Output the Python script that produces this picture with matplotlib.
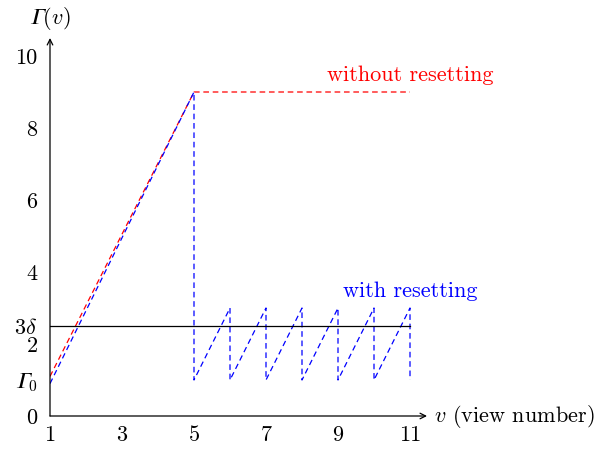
import matplotlib
matplotlib.use("Agg")
import matplotlib.pyplot as plt

plt.rcParams['font.family'] = ['cmr10', 'DejaVu Serif']
plt.rcParams['mathtext.fontset'] = 'cm'
plt.rcParams['axes.formatter.use_mathtext'] = True

G = '\U0001D6E4'  # italic capital Gamma

# Data
red_x = [1, 5, 11]
red_y = [1.1, 9, 9]
blue_x = [1, 5, 5, 6, 6, 7, 7, 8, 8, 9, 9, 10, 10, 11, 11]
blue_y = [0.9, 9, 1, 3, 1, 3, 1, 3, 1, 3, 1, 3, 1, 3, 1]
thresh_x = [1, 11]
thresh_y = [2.5, 2.5]
xticks = [1, 3, 5, 7, 9, 11]
yticks = [0, 1, 2, 2.5, 4, 6, 8, 10]
yticklabels = ['0', '$' + G + '_0$', '2', r'$3\delta$', '4', '6', '8', '10']

FS = 16
fig = plt.figure(figsize=(6.09, 4.49), dpi=100)
W, H = 609, 449
x0, x1 = 1, 1 + 377/36
y0, y1 = 0, 378/36
ax = fig.add_axes([50/W, (H-416)/H, 377/W, 378/H])
ax.set_xlim(x0, x1)
ax.set_ylim(y0, y1)
for s in ax.spines.values():
    s.set_visible(False)

dash = (0, (4.5, 3.0))
ax.plot(red_x, red_y, color='red', lw=0.9, linestyle=dash)
ax.plot(blue_x, blue_y, color='blue', lw=0.9, linestyle=dash)
ax.plot(thresh_x, thresh_y, color='black', lw=0.9)

ax.annotate('', xy=(x1, 0), xytext=(1, 0),
            arrowprops=dict(arrowstyle='->', lw=0.9, color='black', shrinkA=0, shrinkB=0),
            annotation_clip=False)
ax.annotate('', xy=(1, y1), xytext=(1, 0),
            arrowprops=dict(arrowstyle='->', lw=0.9, color='black', shrinkA=0, shrinkB=0),
            annotation_clip=False)

ax.set_xticks(xticks)
ax.set_xticklabels([str(t) for t in xticks], fontsize=FS)
ax.set_yticks(yticks)
ax.set_yticklabels(yticklabels, fontsize=FS)
ax.tick_params(axis='y', length=0, pad=9)
ax.tick_params(axis='x', length=0, pad=7)

ax.text(x1 + 0.2, 0, r'$v$ (view number)', fontsize=FS, va='center', ha='left')
ax.text(1, 11.05, '$' + G + '(v)$', fontsize=FS, va='center', ha='center')
ax.text(11, 9.47, 'without resetting', color='red', fontsize=FS, ha='center', va='center')
ax.text(11, 3.47, 'with resetting', color='blue', fontsize=FS, ha='center', va='center')

fig.savefig('out.png', dpi=100)
